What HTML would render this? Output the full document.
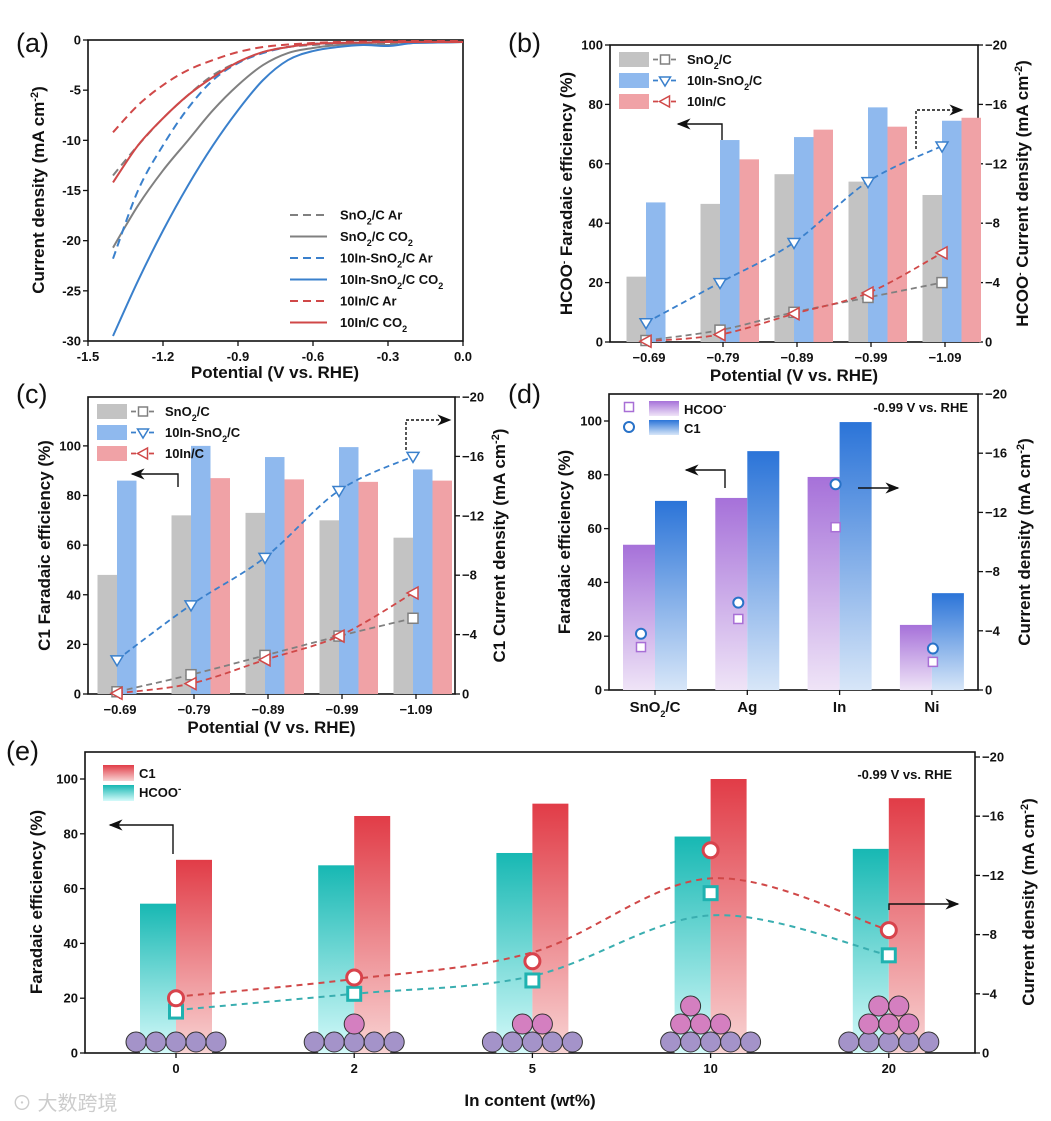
<!DOCTYPE html>
<html><head><meta charset="utf-8"><style>
html,body{margin:0;padding:0;background:#fff}
svg{display:block;font-family:"Liberation Sans",Arial,sans-serif}
.t{font-size:13px;font-weight:bold;fill:#111}
.ax{font-size:17px;font-weight:bold;fill:#111}
.pl{font-size:27px;fill:#111}
.lg{font-size:13px;font-weight:bold;fill:#111}
</style></head><body>
<svg id="fig" width="1051" height="1121" viewBox="0 0 1051 1121" xmlns="http://www.w3.org/2000/svg">
<defs>
<linearGradient id="gPur" x1="0" y1="0" x2="0" y2="1"><stop offset="0" stop-color="#a671d9"/><stop offset="1" stop-color="#efe4f7"/></linearGradient>
<linearGradient id="gBlu" x1="0" y1="0" x2="0" y2="1"><stop offset="0" stop-color="#2b74d8"/><stop offset="1" stop-color="#d7e6f8"/></linearGradient>
<linearGradient id="gTeal" x1="0" y1="0" x2="0" y2="1"><stop offset="0" stop-color="#17b8b3"/><stop offset="1" stop-color="#d5fafa"/></linearGradient>
<linearGradient id="gRed" x1="0" y1="0" x2="0" y2="1"><stop offset="0" stop-color="#e13c47"/><stop offset="1" stop-color="#f8d3d3"/></linearGradient>
<marker id="ah" markerWidth="10" markerHeight="8" refX="9" refY="4" orient="auto"><path d="M0,0 L10,4 L0,8 L3,4 z" fill="#111"/></marker>
</defs>
<g id="root"></g>
<text class="pl" x="16" y="52">(a)</text>
<text class="pl" x="508" y="52">(b)</text>
<text class="pl" x="16" y="403">(c)</text>
<text class="pl" x="508" y="403">(d)</text>
<text class="pl" x="6" y="760">(e)</text>
<text x="12" y="1110" style="font-size:20px;fill:#ccc;font-family:'Liberation Sans','Noto Sans CJK SC',sans-serif">⊙ 大数跨境</text>
</svg>
<script>
// ---------- Panel (a) data ----------
const aPot = [-1.4,-1.3,-1.2,-1.1,-1.0,-0.9,-0.8,-0.7,-0.6,-0.5,-0.4,-0.3,-0.2,-0.1,0.0];
const aSnAr  = [-13.5,-10.5,-7.8,-5.5,-3.5,-2.2,-1.2,-0.7,-0.5,-0.35,-0.3,-0.3,-0.25,-0.2,-0.2];
const aSnCO2 = [-20.7,-16.5,-13,-10,-7,-4.5,-2.5,-1.3,-0.8,-0.5,-0.4,-0.5,-0.3,-0.25,-0.2];
const aInSnAr  = [-21.8,-15,-10.5,-6.8,-4,-2.3,-1.3,-0.7,-0.4,-0.3,-0.25,-0.2,-0.2,-0.2,-0.2];
const aInSnCO2 = [-29.5,-24,-19,-14.5,-10.5,-7,-4,-2,-1.1,-0.7,-0.5,-0.6,-0.3,-0.25,-0.2];
const aInAr  = [-9.2,-6.5,-4.5,-3,-2,-1.2,-0.7,-0.45,-0.3,-0.2,-0.15,-0.12,-0.1,-0.1,-0.1];
const aInCO2 = [-14.2,-10.5,-7.8,-5.5,-3.7,-2.2,-1.2,-0.7,-0.4,-0.3,-0.25,-0.2,-0.2,-0.2,-0.2];
const aXTicks = [-1.5,-1.2,-0.9,-0.6,-0.3,0.0];
const aXTickLabels = ["-1.5","-1.2","-0.9","-0.6","-0.3","0.0"];
const aYTicks = [0,-5,-10,-15,-20,-25,-30];
// ---------- Panel (b) data ----------
const potCats = ["\u22120.69","\u22120.79","\u22120.89","\u22120.99","\u22121.09"];
const bFeSn = [22,46.5,56.5,54,49.5];
const bFeInSn = [47,68,69,79,74.5];
const bFeIn = [0,61.5,71.5,72.5,75.5];
const bJSn = [0.1,0.8,2.0,3.0,4.0];
const bJInSn = [1.3,4.0,6.7,10.8,13.2];
const bJIn = [0.05,0.5,1.9,3.3,6.0];
// ---------- Panel (c) data ----------
const cFeSn = [48,72,73,70,63];
const cFeInSn = [86,100,95.5,99.5,90.5];
const cFeIn = [0,87,86.5,85.5,86];
const cJSn = [0.15,1.3,2.6,3.9,5.1];
const cJInSn = [2.3,6.0,9.2,13.7,16.0];
const cJIn = [0.05,0.7,2.3,3.9,6.8];
// ---------- Panel (d) data ----------
const dCats = ["SnO2/C","Ag","In","Ni"];
const dFeHCOO = [54,71.4,79.2,24.2];
const dFeC1 = [70.3,88.8,99.6,36];
const dJHCOO = [2.9,4.8,11.0,1.9];
const dJC1 = [3.8,5.9,13.9,2.8];
// ---------- Panel (e) data ----------
const eCats = ["0","2","5","10","20"];
const eFeHCOO = [54.5,68.5,73,79,74.5];
const eFeC1 = [70.5,86.5,91,100,93];
const eJC1 = [3.7,5.1,6.2,13.7,8.3];
const eJHCOO = [2.8,4.0,4.9,10.8,6.6];
const eFitC1 = [3.8,5.0,6.8,11.8,8.3];
const eFitHCOO = [2.9,4.0,5.2,9.3,6.6];
const eInAtoms = [0,1,2,4,5];
const feTicks = [0,20,40,60,80,100];
const jTicks = [0,4,8,12,16,20];

const NS="http://www.w3.org/2000/svg";
const root=document.getElementById('root');
function mk(tag,attrs,parent){const e=document.createElementNS(NS,tag);for(const k in attrs)e.setAttribute(k,attrs[k]);(parent||root).appendChild(e);return e;}
function smooth(pts){
  let d="M"+pts[0][0]+","+pts[0][1];
  for(let i=0;i<pts.length-1;i++){const p0=pts[i-1]||pts[i],p1=pts[i],p2=pts[i+1],p3=pts[i+2]||p2;
    d+=" C"+(p1[0]+(p2[0]-p0[0])/6)+","+(p1[1]+(p2[1]-p0[1])/6)+" "+(p2[0]-(p3[0]-p1[0])/6)+","+(p2[1]-(p3[1]-p1[1])/6)+" "+p2[0]+","+p2[1];}
  return d;}
function frame(x0,y0,x1,y1,name){const r=mk('rect',{x:x0,y:y0,width:x1-x0,height:y1-y0,fill:'none',stroke:'#111','stroke-width':1.6});
  
  }
function tickL(x,y,label,name){const l=mk('line',{x1:x-5,y1:y,x2:x,y2:y,stroke:'#111','stroke-width':1.3});
  
  
  const t=mk('text',{x:x-7,y:y+4.5,'text-anchor':'end',class:'t'});t.textContent=label;
  
  }
function tickR(x,y,label,name){const l=mk('line',{x1:x,y1:y,x2:x+5,y2:y,stroke:'#111','stroke-width':1.3});
  
  
  const t=mk('text',{x:x+7,y:y+4.5,'text-anchor':'start',class:'t'});t.textContent=label;
  
  }
function tickB(x,y,label,name){const l=mk('line',{x1:x,y1:y,x2:x,y2:y+5,stroke:'#111','stroke-width':1.3});
  
  
  const t=mk('text',{x:x,y:y+20,'text-anchor':'middle',class:'t'});t.textContent=label;
  
  }
function axTitle(x,y,html,rot,name){const t=mk('text',{x:x,y:y,'text-anchor':'middle',class:'ax',transform:rot?('rotate('+rot+' '+x+' '+y+')'):''});t.innerHTML=html;
  
  }
function arrow(d,dash,name){const p=mk('path',{d:d,fill:'none',stroke:'#111','stroke-width':1.4,'marker-end':'url(#ah)','stroke-dasharray':dash?'3,2':'none'});
  
  }
function marker(shape,x,y,color,name,r){r=r||5;let e;
  if(shape==='sq')e=mk('rect',{x:x-r,y:y-r,width:2*r,height:2*r,fill:'#fff',stroke:color,'stroke-width':1.5});
  else if(shape==='circ')e=mk('circle',{cx:x,cy:y,r:r,fill:'#fff',stroke:color,'stroke-width':2});
  else if(shape==='tdown')e=mk('path',{d:`M${x-r-1},${y-r+1} L${x+r+1},${y-r+1} L${x},${y+r+1} z`,fill:'#fff',stroke:color,'stroke-width':1.5});
  else e=mk('path',{d:`M${x+r},${y-r-1} L${x+r},${y+r+1} L${x-r-1},${y} z`,fill:'#fff',stroke:color,'stroke-width':1.5});
  
  
  return e;}
const SUB2='<tspan font-size="9" baseline-shift="sub">2</tspan>';
const SUPM='<tspan font-size="10" baseline-shift="super">-</tspan>';
const SUPM2='<tspan font-size="11" baseline-shift="super">-2</tspan>)';

// ================= Panel (a) =================
const ax0=88,ax1=463,ay0=40,ay1=341;
const xa=E=>ax0+(E+1.5)/1.5*(ax1-ax0);
const ya=j=>ay0+(-j)/30*(ay1-ay0);
frame(ax0,ay0,ax1,ay1,'panel-a-plot-frame');
aXTicks.forEach((v,i)=>tickB(xa(v),ay1,aXTickLabels[i],'a-x'));
aYTicks.forEach(v=>tickL(ax0,ya(v),String(v),'a-y'));
axTitle(275,378,'Potential (V vs. RHE)',0,'a-x-axis-title');
axTitle(44,190,'Current density (mA cm'+SUPM2,-90,'a-y-axis-title');
const aSeries=[[aSnAr,'#808080',true,'a-sno2c-ar-curve'],[aSnCO2,'#808080',false,'a-sno2c-co2-curve'],[aInSnAr,'#3a80cc',true,'a-10in-sno2c-ar-curve'],[aInSnCO2,'#3a80cc',false,'a-10in-sno2c-co2-curve'],[aInAr,'#d04848',true,'a-10inc-ar-curve'],[aInCO2,'#d04848',false,'a-10inc-co2-curve']];
aSeries.forEach(s=>{const p=mk('path',{d:smooth(aPot.map((E,i)=>[xa(E),ya(s[0][i])])),fill:'none',stroke:s[1],'stroke-width':2,'stroke-dasharray':s[2]?'8,5':'none'});
  
  });
const aLeg=[['SnO'+SUB2+'/C Ar','#808080',true],['SnO'+SUB2+'/C CO'+SUB2,'#808080',false],['10In-SnO'+SUB2+'/C Ar','#3a80cc',true],['10In-SnO'+SUB2+'/C CO'+SUB2,'#3a80cc',false],['10In/C Ar','#d04848',true],['10In/C CO'+SUB2,'#d04848',false]];
aLeg.forEach((l,i)=>{const y=215+i*21.5;const ln=mk('line',{x1:290,y1:y,x2:327,y2:y,stroke:l[1],'stroke-width':2,'stroke-dasharray':l[2]?'8,5':'none'});
  
  
  const t=mk('text',{x:340,y:y+4.5,class:'lg'});t.innerHTML=l[0];
  
  });

// ================= Panel (b) & (c) =================
function potPanel(P){
  const fy=v=>P.y1-v/P.feMax*(P.y1-P.y0), jy=v=>P.y1-v/20*(P.y1-P.y0), cx=i=>P.c0+i*P.dx;
  frame(P.x0,P.y0,P.x1,P.y1,P.id+'-plot-frame');
  potCats.forEach((c,i)=>tickB(cx(i),P.y1,c,P.id+'-x'));
  feTicks.forEach(v=>tickL(P.x0,fy(v),String(v),P.id+'-y-left'));
  jTicks.forEach(v=>tickR(P.x1,jy(v),v===0?'0':'\u2212'+v,P.id+'-y-right'));
  const W=19.5;
  const sets=[[P.fe[0],'#c3c3c3',-W-3],[P.fe[1],'#8fb9ee',-3],[P.fe[2],'#f0a2a6',W-3]];
  sets.forEach((s,k)=>s[0].forEach((v,i)=>{if(v<=0)return;const r=mk('rect',{x:cx(i)+s[2],y:fy(v),width:W,height:P.y1-fy(v),fill:s[1]});
    
    }));
  const lines=[[P.j[0],'#808080','sq'],[P.j[1],'#3a80cc','tdown'],[P.j[2],'#d04848','tleft']];
  lines.forEach((s,k)=>{const pts=s[0].map((v,i)=>[cx(i)+P.mo,jy(v)]);
    const p=mk('path',{d:smooth(pts),fill:'none',stroke:s[1],'stroke-width':1.8,'stroke-dasharray':'6,4'});
    
    
    pts.forEach(q=>marker(s[2],q[0],q[1],s[1],P.id+'-current-marker'));});
  const lx=P.x0+9,names=['SnO'+SUB2+'/C','10In-SnO'+SUB2+'/C','10In/C'];
  sets.forEach((s,k)=>{const y=P.y0+7+k*21;const r=mk('rect',{x:lx,y:y,width:30,height:15,fill:s[1]});
    
    
    const ln=mk('line',{x1:lx+34,y1:y+7.5,x2:lx+58,y2:y+7.5,stroke:lines[k][1],'stroke-width':1.8,'stroke-dasharray':'5,4'});
    
    
    marker(lines[k][2],lx+46,y+7.5,lines[k][1],P.id+'-legend-marker',4.5);
    const t=mk('text',{x:lx+68,y:y+12,class:'lg'});t.innerHTML=names[k];
    
    });
  axTitle((P.x0+P.x1)/2,P.y1+39,'Potential (V vs. RHE)',0,P.id+'-x-axis-title');
  axTitle(P.x0-38,(P.y0+P.y1)/2,P.leftT,-90,P.id+'-y-left-title');
  axTitle(P.x1+50,(P.y0+P.y1)/2,P.rightT,-90,P.id+'-y-right-title');
  arrow(P.arL,false,P.id+'-left-axis-arrow');
  arrow(P.arR,true,P.id+'-right-axis-arrow');
}
potPanel({id:'b',x0:610,x1:978,y0:45,y1:342,feMax:100,c0:649,dx:74,mo:-3,fe:[bFeSn,bFeInSn,bFeIn],j:[bJSn,bJInSn,bJIn],
  leftT:'HCOO'+SUPM+' Faradaic efficiency (%)',rightT:'HCOO'+SUPM+' Current density (mA cm'+SUPM2,
  arL:'M722,140 L722,124 L678,124',arR:'M916,149 L916,110 L962,110'});
potPanel({id:'c',x0:88,x1:455,y0:397,y1:694,feMax:119.7,c0:120,dx:74,mo:-3,fe:[cFeSn,cFeInSn,cFeIn],j:[cJSn,cJInSn,cJIn],
  leftT:'C1 Faradaic efficiency (%)',rightT:'C1 Current density (mA cm'+SUPM2,
  arL:'M178,487 L178,474 L132,474',arR:'M406,450 L406,420 L450,420'});

// ================= Panel (d) =================
(function(){
  const x0=609,x1=978,y0=394,y1=690;
  const fy=v=>y1-v*2.69, jy=v=>y1-v*14.8, cx=i=>655+i*92.3;
  frame(x0,y0,x1,y1,'d-plot-frame');
  [0,20,40,60,80,100].forEach(v=>tickL(x0,fy(v),String(v),'d-y-left'));
  jTicks.forEach(v=>tickR(x1,y1-v*(y1-y0)/20,v===0?'0':'\u2212'+v,'d-y-right'));
  dCats.forEach((c,i)=>{const t=mk('line',{x1:cx(i),y1:y1,x2:cx(i),y2:y1+5,stroke:'#111','stroke-width':1.3});
    
    
    const l=mk('text',{x:cx(i),y:y1+22,'text-anchor':'middle',class:'t',style:'font-size:15px'});l.innerHTML=c==='SnO2/C'?'SnO'+SUB2+'/C':c;
    
    });
  dFeHCOO.forEach((v,i)=>{const r=mk('rect',{x:cx(i)-32,y:fy(v),width:32,height:y1-fy(v),fill:'url(#gPur)'});
    
    });
  dFeC1.forEach((v,i)=>{const r=mk('rect',{x:cx(i),y:fy(v),width:32,height:y1-fy(v),fill:'url(#gBlu)'});
    
    });
  dJHCOO.forEach((v,i)=>marker('sq',cx(i)-14+i*5,jy(v),'#a86fd6','d-hcoo-current-marker',4.5));
  dJC1.forEach((v,i)=>marker('circ',cx(i)-14+i*5,jy(v),'#2872c8','d-c1-current-marker',5));
  marker('sq',629,407,'#a86fd6','d-legend-hcoo-marker',4.5);
  marker('circ',629,427,'#2872c8','d-legend-c1-marker',5);
  const r1=mk('rect',{x:649,y:401,width:30,height:15,fill:'url(#gPur)'});
  
  
  const r2=mk('rect',{x:649,y:420,width:30,height:15,fill:'url(#gBlu)'});
  
  
  const t1=mk('text',{x:684,y:414,class:'lg'});t1.innerHTML='HCOO'+SUPM;
  
  
  const t2=mk('text',{x:684,y:433,class:'lg'});t2.textContent='C1';
  
  
  const t3=mk('text',{x:968,y:412,'text-anchor':'end',class:'lg'});t3.textContent='-0.99 V vs. RHE';
  
  
  axTitle(570,542,'Faradaic efficiency (%)',-90,'d-y-left-title');
  axTitle(1030,542,'Current density (mA cm'+SUPM2,-90,'d-y-right-title');
  arrow('M725,488 L725,470 L686,470',false,'d-left-axis-arrow');
  arrow('M858,488 L898,488',false,'d-right-axis-arrow');
})();

// ================= Panel (e) =================
(function(){
  const x0=85,x1=975,y0=752,y1=1053;
  const fy=v=>y1-v*2.74, jy=v=>y1-v*14.8, cx=i=>176+i*178.2;
  frame(x0,y0,x1,y1,'e-plot-frame');
  feTicks.forEach(v=>tickL(x0,fy(v),String(v),'e-y-left'));
  jTicks.forEach(v=>tickR(x1,jy(v),v===0?'0':'\u2212'+v,'e-y-right'));
  eCats.forEach((c,i)=>tickB(cx(i),y1,c,'e-x'));
  eFeHCOO.forEach((v,i)=>{const r=mk('rect',{x:cx(i)-36,y:fy(v),width:36,height:y1-fy(v),fill:'url(#gTeal)'});
    
    });
  eFeC1.forEach((v,i)=>{const r=mk('rect',{x:cx(i),y:fy(v),width:36,height:y1-fy(v),fill:'url(#gRed)'});
    
    });
  eInAtoms.forEach((n,i)=>{const c=cx(i);
    for(let k=-2;k<=2;k++){const a=mk('circle',{cx:c+k*20,cy:y1-11,r:10,fill:'#a493c9',stroke:'#333','stroke-width':1});
      
      }
    const pos=n===1?[[0,1]]:n===2?[[-10,1],[10,1]]:n===4?[[-30,1],[-10,1],[10,1],[-20,2]]:n===5?[[-20,1],[0,1],[20,1],[-10,2],[10,2]]:[];
    pos.forEach(p=>{const a=mk('circle',{cx:c+p[0],cy:y1-11-p[1]*18,r:10,fill:'#d47fc0',stroke:'#333','stroke-width':1});
      
      });});
  const fc=mk('path',{d:smooth(eFitC1.map((v,i)=>[cx(i),jy(v)])),fill:'none',stroke:'#d04848','stroke-width':2,'stroke-dasharray':'6,5'});
  
  
  const fh=mk('path',{d:smooth(eFitHCOO.map((v,i)=>[cx(i),jy(v)])),fill:'none',stroke:'#3aaeb0','stroke-width':2,'stroke-dasharray':'6,5'});
  
  
  eJHCOO.forEach((v,i)=>{const m=marker('sq',cx(i),jy(v),'#1fb2b0','e-hcoo-current-marker',6.5);m.setAttribute('stroke-width',3);});
  eJC1.forEach((v,i)=>{const m=marker('circ',cx(i),jy(v),'#d8434c','e-c1-current-marker',7.5);m.setAttribute('stroke-width',3);});
  const r1=mk('rect',{x:103,y:765,width:31,height:16,fill:'url(#gRed)'});
  
  
  const r2=mk('rect',{x:103,y:785,width:31,height:16,fill:'url(#gTeal)'});
  
  
  const t1=mk('text',{x:139,y:778,class:'lg'});t1.textContent='C1';
  
  
  const t2=mk('text',{x:139,y:797,class:'lg'});t2.innerHTML='HCOO'+SUPM;
  
  
  const t3=mk('text',{x:952,y:779,'text-anchor':'end',class:'lg'});t3.textContent='-0.99 V vs. RHE';
  
  
  axTitle(530,1106,'In content (wt%)',0,'e-x-axis-title');
  axTitle(42,902,'Faradaic efficiency (%)',-90,'e-y-left-title');
  axTitle(1034,902,'Current density (mA cm'+SUPM2,-90,'e-y-right-title');
  arrow('M173,854 L173,825 L110,825',false,'e-left-axis-arrow');
  arrow('M889,910 L889,904 L958,904',false,'e-right-axis-arrow');
})();
</script>
</body></html>
